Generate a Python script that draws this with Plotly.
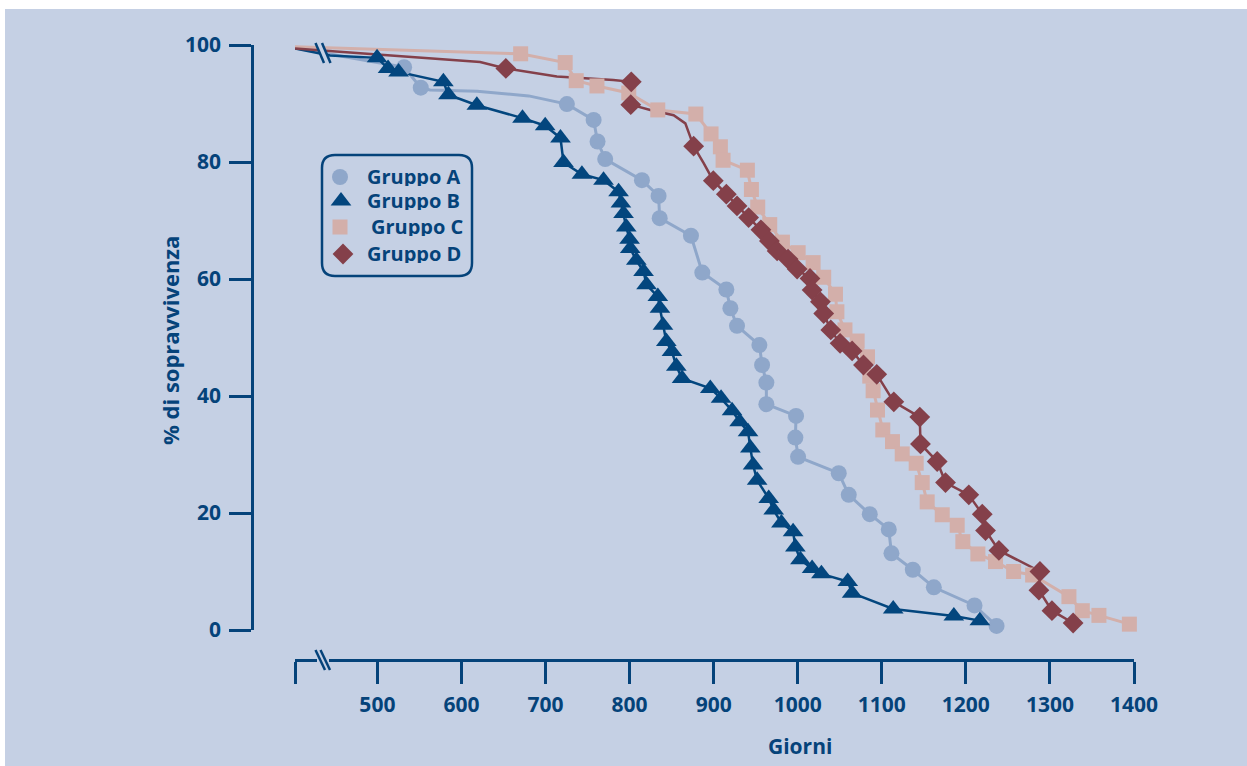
import plotly.graph_objects as go

W, H = 1247, 766
NAVY = "#05437A"
BG = "#C5D0E4"
COL_A = "#8FA7CA"
COL_B = "#03467E"
COL_C = "#D3AFAA"
COL_D = "#84404A"

# ---------------- data ----------------
x_ticks = [500, 600, 700, 800, 900, 1000, 1100, 1200, 1300, 1400]
y_ticks = [0, 20, 40, 60, 80, 100]
x_start = 402  # left end of the broken time axis

a_days = [531.8, 551.6, 725.4, 757.2, 761.9, 771.0, 814.7, 834.5, 835.8, 873.0,
          886.5, 915.1, 919.9, 927.8, 954.4, 957.6, 962.7, 962.7, 998.0, 997.2,
          1000.4, 1048.8, 1060.7, 1085.7, 1108.3, 1111.5, 1136.9, 1161.9, 1210.3, 1236.5]
a_surv = [96.2, 92.7, 89.9, 87.2, 83.5, 80.5, 76.9, 74.2, 70.4, 67.4,
          61.1, 58.2, 55.0, 52.0, 48.7, 45.3, 42.3, 38.6, 36.6, 32.9,
          29.6, 26.8, 23.1, 19.8, 17.2, 13.1, 10.3, 7.3, 4.2, 0.7]
a_line_days = [402, 562.7, 618.7, 680.0]
a_line_surv = [99.5, 92.3, 92.1, 91.3]

b_days = [499.6, 512.7, 525.2, 578.5, 584.5, 618.3, 672.6, 699.6, 717.8, 721.4,
          743.3, 769.0, 786.9, 789.7, 792.8, 796.0, 800.0, 800.8, 808.0, 816.6,
          820.2, 833.6, 836.1, 839.7, 843.7, 850.4, 855.6, 862.4, 896.0, 908.8,
          921.9, 930.9, 940.9, 943.7, 946.9, 951.7, 965.5, 971.4, 980.6, 994.5,
          997.2, 1003.2, 1017.1, 1028.2, 1059.5, 1064.7, 1113.6, 1185.7, 1216.6]
b_surv = [97.8, 96.0, 95.4, 93.7, 91.5, 89.7, 87.5, 86.2, 84.1, 79.9,
          77.9, 76.9, 74.9, 73.0, 71.2, 68.9, 66.8, 65.2, 63.2, 61.3,
          59.0, 57.0, 55.0, 52.1, 49.3, 47.6, 45.1, 43.0, 41.3, 39.6,
          37.5, 35.6, 33.9, 31.1, 28.2, 25.6, 22.5, 20.5, 18.3, 16.8,
          14.2, 12.0, 10.5, 9.6, 8.3, 6.3, 3.6, 2.4, 1.6]
b_line_days = [402, 443.7]
b_line_surv = [99.4, 98.2]

c_days = [670.4, 723.4, 736.5, 761.2, 799.0, 833.5, 878.8, 896.9, 908.0, 911.2,
          940.1, 944.9, 952.4, 966.7, 981.8, 1000.5, 1018.3, 1030.9, 1044.9, 1046.6,
          1056.2, 1070.7, 1083.0, 1085.7, 1089.7, 1094.9, 1101.2, 1112.7, 1124.3, 1140.9,
          1148.1, 1154.0, 1171.9, 1189.7, 1196.4, 1214.3, 1235.3, 1256.8, 1279.4, 1322.6,
          1338.5, 1358.3, 1394.5]
c_surv = [98.5, 97.0, 93.9, 93.0, 91.8, 88.9, 88.2, 84.8, 82.6, 80.3,
          78.6, 75.3, 72.3, 69.3, 66.3, 64.5, 62.8, 60.3, 57.4, 54.4,
          51.3, 49.4, 46.7, 43.4, 40.9, 37.6, 34.2, 32.2, 30.1, 28.5,
          25.2, 21.9, 19.7, 17.9, 15.1, 13.0, 11.7, 10.0, 9.4, 5.7,
          3.3, 2.5, 1.0]
c_line_days = [402, 622.2]
c_line_surv = [99.7, 98.8]

d_days = [652.8, 802.0, 801.4, 876.2, 899.6, 915.1, 927.8, 941.6, 956.2, 966.3,
          975.5, 988.5, 999.3, 1014.6, 1017.1, 1027.0, 1030.9, 1039.3, 1050.4, 1064.7,
          1078.2, 1094.0, 1114.3, 1145.2, 1146.0, 1165.9, 1175.8, 1203.5, 1219.5, 1223.4,
          1239.3, 1288.1, 1286.9, 1302.4, 1327.6]
d_surv = [96.0, 93.7, 89.8, 82.7, 76.8, 74.5, 72.5, 70.5, 68.4, 66.5,
          64.8, 63.4, 61.7, 60.1, 58.1, 56.1, 54.1, 51.3, 49.0, 47.7,
          45.3, 43.7, 39.0, 36.4, 31.8, 28.8, 25.2, 23.1, 19.8, 17.0,
          13.6, 10.0, 6.8, 3.3, 1.2]
d_line_days = [402, 622.2, 713.5, 780.6, 824.6, 852.4, 866.3, 872.2, 888.1]
d_line_surv = [99.4, 97.1, 94.6, 94.0, 88.9, 88.0, 86.6, 84.3, 79.8]

legend_names = ["Gruppo A", "Gruppo B", "Gruppo C", "Gruppo D"]

groups = [
    (a_days, a_surv, a_line_days, a_line_surv, COL_A, "circle", 16, 3.0),
    (b_days, b_surv, b_line_days, b_line_surv, COL_B, "triangle-up", 18, 2.5),
    (c_days, c_surv, c_line_days, c_line_surv, COL_C, "square", 15, 3.0),
    (d_days, d_surv, d_line_days, d_line_surv, COL_D, "diamond", 16, 2.5),
]

fig = go.Figure()

# lines (path ordered by decreasing survival)
for xs, ys, lx, ly, col, sym, msz, lw in groups:
    pts = sorted(zip(list(xs) + list(lx), list(ys) + list(ly)), key=lambda p: -p[1])
    fig.add_trace(go.Scatter(
        x=[p[0] for p in pts], y=[p[1] for p in pts], mode="lines",
        line=dict(color=col, width=lw), showlegend=False, hoverinfo="skip"))

# markers
for name, (xs, ys, lx, ly, col, sym, msz, lw) in zip(legend_names, groups):
    fig.add_trace(go.Scatter(
        x=xs, y=ys, mode="markers", name=name, showlegend=False,
        marker=dict(symbol=sym, size=msz, color=col, line=dict(width=0)),
        cliponaxis=False))

# ---------------- legend (drawn on a pixel-space overlay axis) ----------------
leg_marker_x = [340, 341, 340, 343]
leg_row_y = [177, 201, 227, 254]
leg_text_x = [366, 366, 370, 366]
leg_text_y = [176, 200, 226, 253]
for i, (xs, ys, lx, ly, col, sym, msz, lw) in enumerate(groups):
    fig.add_trace(go.Scatter(
        x=[leg_marker_x[i]], y=[leg_row_y[i]], xaxis="x2", yaxis="y2",
        mode="markers", showlegend=False, hoverinfo="skip",
        marker=dict(symbol=sym, size=msz, color=col, line=dict(width=0))))

# ---------------- decorations ----------------
def px(x):
    return x / W

def py(y):
    return (H - y) / H

shapes = [
    dict(type="rect", xref="paper", yref="paper", x0=px(5), x1=1, y0=0, y1=py(9),
         fillcolor=BG, line=dict(width=0), layer="below"),
]

def rounded_rect(x0, y0, x1, y1, r):
    return (f"M {x0 + r},{y0} L {x1 - r},{y0} Q {x1},{y0} {x1},{y0 + r} "
            f"L {x1},{y1 - r} Q {x1},{y1} {x1 - r},{y1} L {x0 + r},{y1} "
            f"Q {x0},{y1} {x0},{y1 - r} L {x0},{y0 + r} Q {x0},{y0} {x0 + r},{y0} Z")

def path_px_to_paper(path):
    out = []
    for t in path.split():
        if "," in t:
            a, b = t.split(",")
            out.append(f"{px(float(a)):.5f},{py(float(b)):.5f}")
        else:
            out.append(t)
    return " ".join(out)

shapes.append(dict(type="path", xref="paper", yref="paper",
                   path=path_px_to_paper(rounded_rect(322, 155, 472, 276, 13)),
                   line=dict(color=NAVY, width=2.5), fillcolor="rgba(0,0,0,0)"))

# x axis break
shapes.append(dict(type="line", xref="paper", yref="paper",
                   x0=px(317), x1=px(329), y0=py(660), y1=py(660),
                   line=dict(color=BG, width=5)))
for dx in (0, 5):
    shapes.append(dict(type="line", xref="paper", yref="paper",
                       x0=px(315.5 + dx), y0=py(650), x1=px(325 + dx), y1=py(670),
                       line=dict(color=NAVY, width=2.5)))
# curves break
shapes.append(dict(type="line", xref="paper", yref="paper",
                   x0=px(318.5), y0=py(42), x1=px(327.5), y1=py(63),
                   line=dict(color=BG, width=5)))
for dx in (0, 6.5):
    shapes.append(dict(type="line", xref="paper", yref="paper",
                       x0=px(315.5 + dx), y0=py(43), x1=px(324 + dx), y1=py(63),
                       line=dict(color=NAVY, width=2.5)))

FONT = "Open Sans"
annotations = [
    dict(text="% di sopravvivenza", xref="paper", yref="paper", x=px(170), y=py(341),
         textangle=-90, showarrow=False, xanchor="center", yanchor="middle",
         font=dict(family=FONT, size=22, color=NAVY, weight="bold")),
    dict(text="Giorni", xref="paper", yref="paper", x=px(800), y=py(746),
         showarrow=False, xanchor="center", yanchor="middle",
         font=dict(family=FONT, size=21, color=NAVY, weight="bold")),
]
for i, name in enumerate(legend_names):
    annotations.append(dict(
        text=name, xref="paper", yref="paper", x=px(leg_text_x[i]), y=py(leg_text_y[i]),
        showarrow=False, xanchor="left", yanchor="middle", height=20, valign="middle",
        borderpad=0,
        font=dict(family=FONT, size=20, color=NAVY, weight="bold")))

fig.update_layout(
    width=W, height=H, margin=dict(l=0, r=0, t=0, b=0),
    paper_bgcolor="white", plot_bgcolor="rgba(0,0,0,0)",
    shapes=shapes, annotations=annotations, showlegend=False,
    xaxis=dict(domain=[px(295), px(1134)], range=[x_start, 1400], anchor="free",
               position=py(660), showgrid=False, zeroline=False,
               showline=True, linecolor=NAVY, linewidth=2.5,
               ticks="outside", ticklen=22, tickwidth=2.5, tickcolor=NAVY,
               tickvals=[x_start] + x_ticks, ticktext=[""] + [str(v) for v in x_ticks],
               tickfont=dict(family=FONT, size=21, color=NAVY, weight="bold"),
               ticklabelstandoff=3, automargin=False),
    yaxis=dict(domain=[py(630), py(45)], range=[0, 100], anchor="free",
               position=px(252), showgrid=False, zeroline=False,
               showline=True, linecolor=NAVY, linewidth=2.5,
               ticks="outside", ticklen=22, tickwidth=2.5, tickcolor=NAVY,
               tickvals=y_ticks, ticktext=[str(v) for v in y_ticks],
               tickfont=dict(family=FONT, size=21, color=NAVY, weight="bold"),
               ticklabelstandoff=4, automargin=False),
    xaxis2=dict(domain=[0, 1], range=[0, W], anchor="y2", visible=False, fixedrange=True),
    yaxis2=dict(domain=[0, 1], range=[H, 0], anchor="x2", visible=False, fixedrange=True),
)

fig.write_html("out.html", config={"displayModeBar": False},
               post_script="document.body.style.margin='0';")
